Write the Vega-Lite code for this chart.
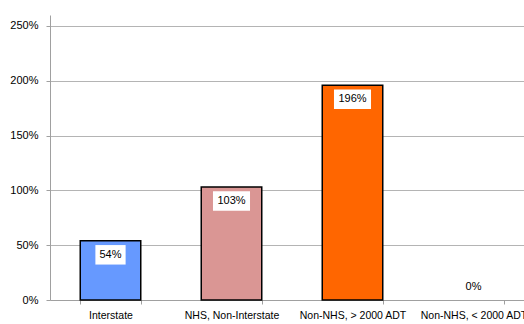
{
  "$schema": "https://vega.github.io/schema/vega-lite/v6.json",
  "autosize": "none",
  "padding": {"left": 50, "top": 15, "right": 0, "bottom": 24},
  "width": 484,
  "height": 285,
  "background": "white",
  "config": {"view": {"stroke": null}, "font": "Liberation Sans"},
  "data": {"values": [
    {"category": "Interstate", "value": 0.54, "label": "54%"},
    {"category": "NHS, Non-Interstate", "value": 1.03, "label": "103%"},
    {"category": "Non-NHS, > 2000 ADT", "value": 1.96, "label": "196%"},
    {"category": "Non-NHS, < 2000 ADT", "value": 0.0, "label": "0%"}
  ]},
  "encoding": {
    "x": {"field": "category", "type": "nominal", "sort": null,
      "scale": {"paddingInner": 0.5, "paddingOuter": 0.25},
      "axis": {"title": null, "labelAngle": 0, "tickBand": "extent", "grid": false,
        "domainColor": "#a0a0a0", "tickColor": "#a0a0a0", "tickSize": 4,
        "labelFontSize": 10.5, "labelColor": "#000000", "labelPadding": 6}}
  },
  "layer": [
    {
      "transform": [{"filter": "datum.value > 0"}],
      "mark": {"type": "bar", "stroke": "#000000", "strokeWidth": 1.5},
      "encoding": {
        "y": {"field": "value", "type": "quantitative",
          "scale": {"domain": [0, 2.5]},
          "axis": {"title": null, "format": ".0%", "values": [0, 0.5, 1, 1.5, 2, 2.5],
            "gridColor": "#b4b4b4", "domainColor": "#a0a0a0", "tickColor": "#a0a0a0",
            "tickSize": 4, "labelPadding": 8, "labelFontSize": 11, "labelColor": "#000000"}},
        "color": {"field": "category", "type": "nominal", "legend": null,
          "scale": {"domain": ["Interstate", "NHS, Non-Interstate", "Non-NHS, > 2000 ADT", "Non-NHS, < 2000 ADT"],
            "range": ["#6699ff", "#da9694", "#ff6600", "#ffffff"]}}
      }
    },
    {
      "transform": [{"filter": "datum.value > 0"}],
      "mark": {"type": "point", "filled": true, "fill": "white", "opacity": 1, "strokeWidth": 0, "size": 380, "yOffset": 14},
      "encoding": {
        "y": {"field": "value", "type": "quantitative"},
        "shape": {"condition": {"test": "datum.value >= 1", "value": "M-1.9,-1H1.9V1H-1.9Z"}, "value": "M-1.55,-1H1.55V1H-1.55Z"}
      }
    },
    {
      "transform": [{"filter": "datum.value > 0"}],
      "mark": {"type": "text", "fontSize": 11, "color": "#000000", "yOffset": 14},
      "encoding": {
        "y": {"field": "value", "type": "quantitative"},
        "text": {"field": "label"}
      }
    },
    {
      "transform": [{"filter": "datum.value == 0"}],
      "mark": {"type": "text", "fontSize": 11, "color": "#000000", "yOffset": -13},
      "encoding": {
        "y": {"field": "value", "type": "quantitative"},
        "text": {"field": "label"}
      }
    }
  ]
}
